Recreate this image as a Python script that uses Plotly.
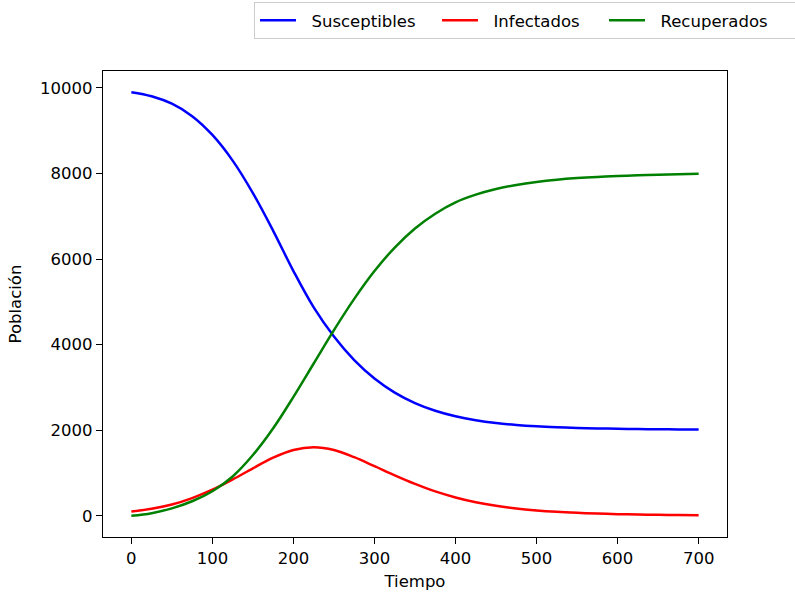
import plotly.graph_objects as go

# Time samples (days)
tiempo = [0, 25, 50, 75, 100, 125, 150, 175, 200, 225, 250, 275, 300, 325, 350,
          375, 400, 425, 450, 475, 500, 525, 550, 575, 600, 625, 650, 675, 700]

susceptibles = [9900, 9805, 9630, 9340, 8900, 8300, 7540, 6660, 5720, 4870, 4190, 3640,
                3210, 2880, 2635, 2455, 2325, 2233, 2168, 2123, 2091, 2069, 2053, 2042,
                2034, 2028, 2023, 2019, 2016]

infectados = [100, 165, 265, 415, 610, 850, 1110, 1360, 1540, 1605, 1540, 1370,
              1160, 945, 745, 570, 430, 318, 234, 172, 127, 94, 70, 52,
              39, 30, 23, 17, 13]

recuperados = [0, 62, 175, 340, 575, 920, 1420, 2045, 2780, 3560, 4340, 5070,
               5720, 6270, 6715, 7060, 7325, 7505, 7637, 7732, 7802, 7854, 7892, 7920,
               7941, 7957, 7970, 7981, 7991]

x_ticks = [0, 100, 200, 300, 400, 500, 600, 700]
y_ticks = [0, 2000, 4000, 6000, 8000, 10000]
y_tick_text = ["0", "2000", "4000", "6000", "8000", "10000"]

FONT = "DejaVu Sans"
FS = 16.5
PAD = "\u00a0\u00a0"

fig = go.Figure()
series = [("Susceptibles", susceptibles, "#0000ff", 131),
          ("Infectados", infectados, "#ff0000", 116),
          ("Recuperados", recuperados, "#008000", 140)]
for name, vals, col, lw in series:
    fig.add_trace(go.Scatter(x=tiempo, y=vals, mode="lines", name=PAD + name,
                             line=dict(color=col, width=2.5, shape="spline", smoothing=1.0),
                             legendwidth=lw))

axis_common = dict(showline=True, linecolor="black", linewidth=1.3, mirror=True,
                   ticks="outside", ticklen=6, tickwidth=1.3, tickcolor="black",
                   showgrid=False, zeroline=False,
                   tickfont=dict(family=FONT, size=FS, color="black"))

fig.update_layout(
    width=795, height=592,
    margin=dict(l=103, r=68, t=71, b=55, autoexpand=False),
    paper_bgcolor="white", plot_bgcolor="white",
    font=dict(family=FONT, size=FS, color="black"),
    showlegend=True,
    legend=dict(orientation="h", x=0.242, y=1.148, xanchor="left", yanchor="top",
                bordercolor="#cccccc", borderwidth=1, bgcolor="rgba(255,255,255,0.8)",
                itemwidth=36, font=dict(family=FONT, size=FS, color="black"),
                traceorder="normal"),
    xaxis=dict(range=[-35, 735], tickvals=x_ticks,
               title=dict(text="Tiempo", font=dict(family=FONT, size=FS), standoff=8),
               **axis_common),
    yaxis=dict(range=[-495, 10395], tickvals=y_ticks, ticktext=y_tick_text,
               title=dict(text="Población", font=dict(family=FONT, size=FS), standoff=14),
               **axis_common),
)

fig.write_html("out.html")
